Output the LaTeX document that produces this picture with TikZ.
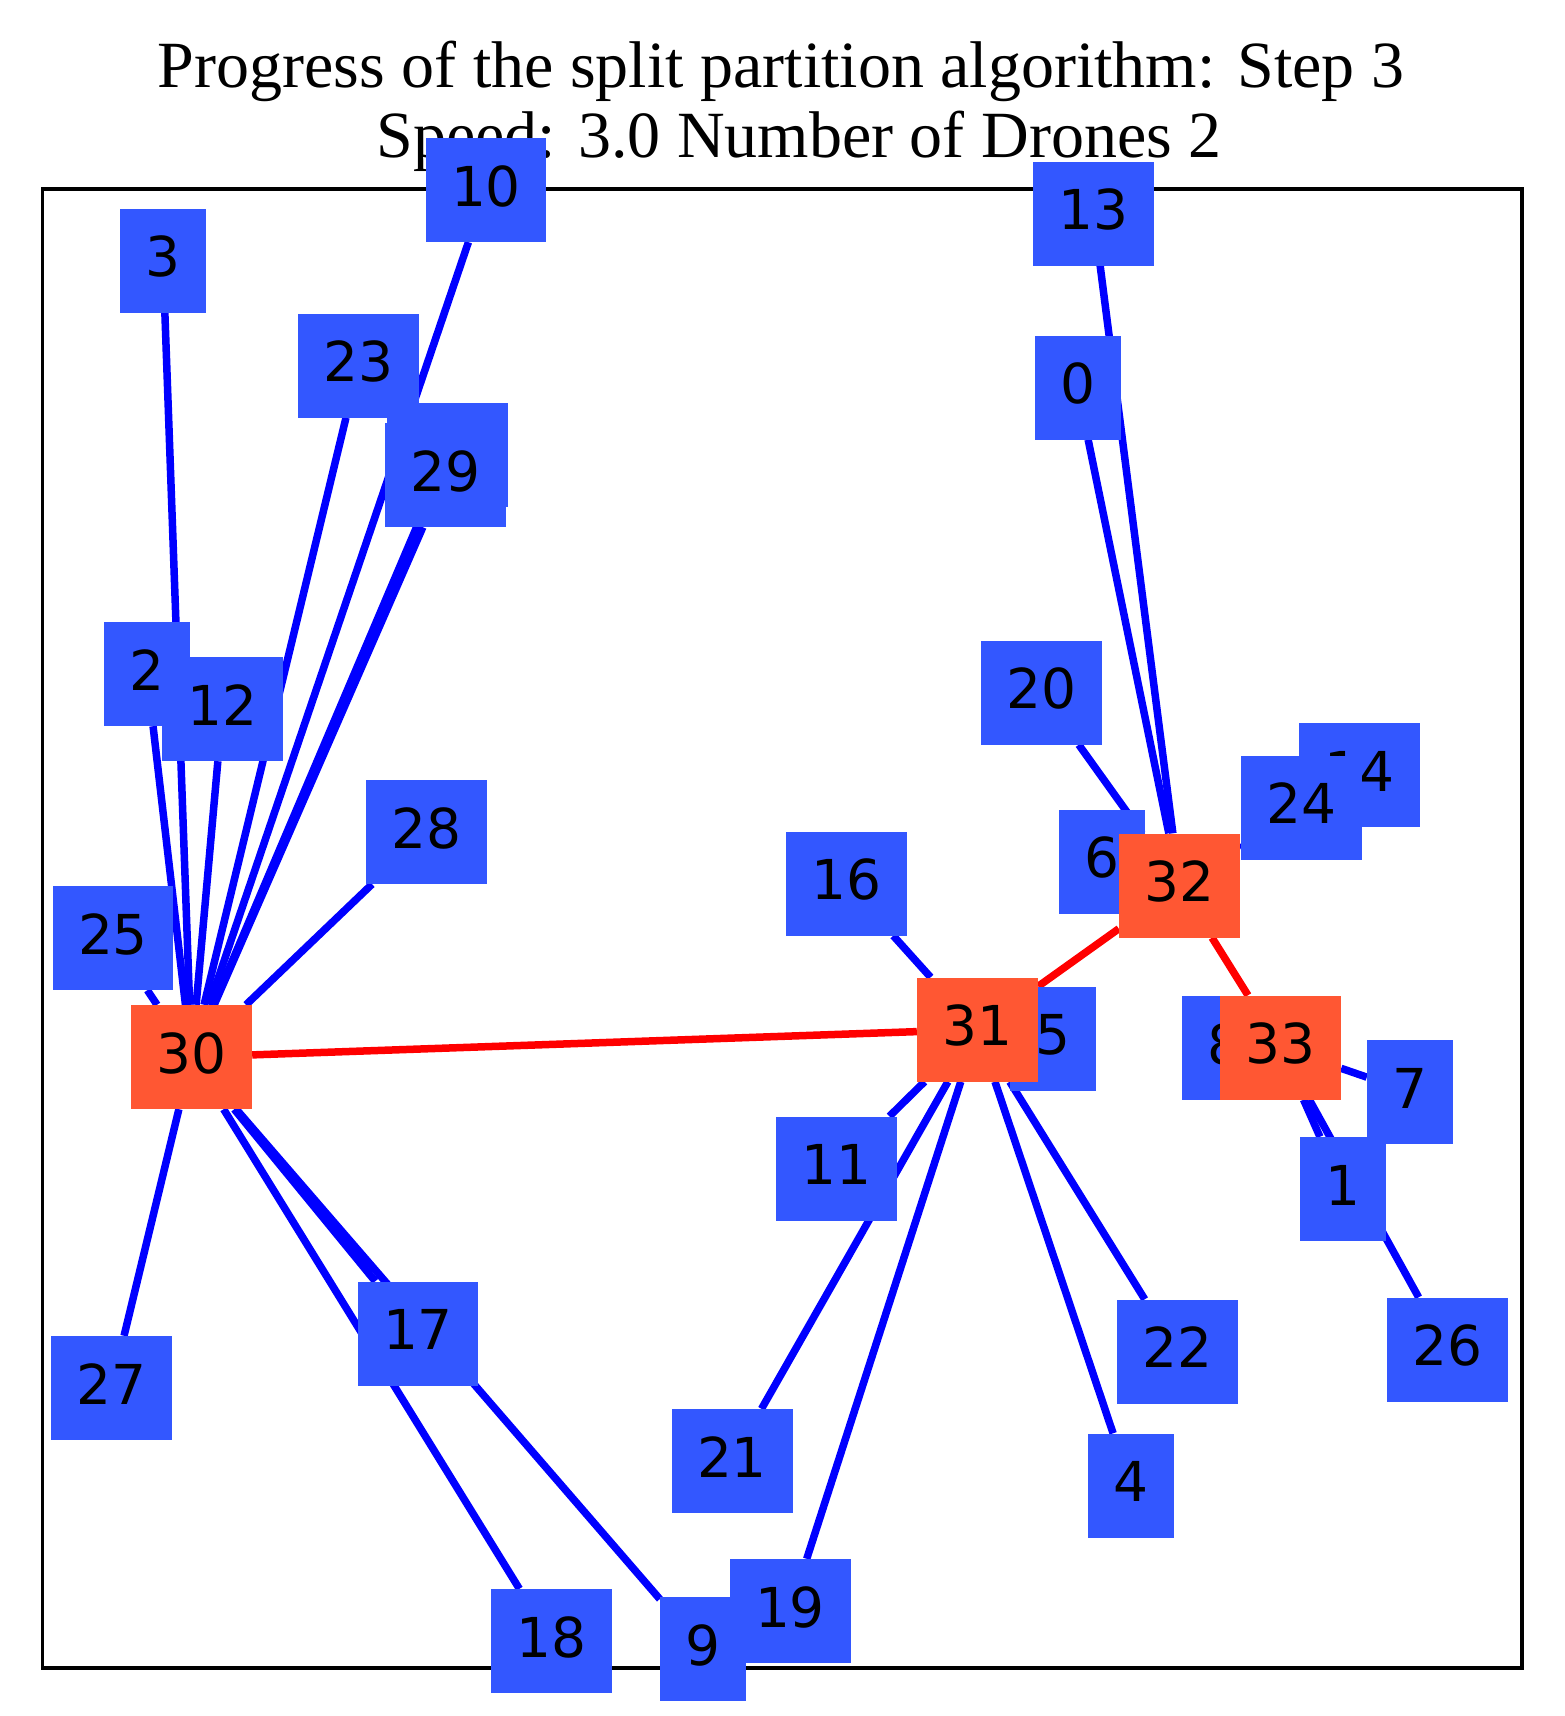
\documentclass[tikz,border=0pt]{standalone}
\usepackage{fontspec}
\setmainfont{Liberation Serif}
\newfontfamily\boxfont{DejaVu Sans}
\definecolor{leafblue}{HTML}{3357FF}
\definecolor{hubred}{HTML}{FF5733}
\pgfdeclarelayer{background}
\pgfsetlayers{background,main}

\begin{document}
\begin{tikzpicture}[x=1pt,y=-1pt,
                    leaf node/.style={fill=leafblue,font=\boxfont\fontsize{55}{66}\selectfont,
                                      minimum height=104pt,inner xsep=25.5pt,inner ysep=0pt,text depth=8pt},
                    hub node/.style={leaf node,fill=hubred},
                    link/.style={draw=blue,line width=7.5pt},
                    bridge/.style={draw=red,line width=7.5pt},
                    title/.style={font=\fontsize{66}{70}\selectfont,anchor=base,inner sep=0pt}]
  \useasboundingbox (0,0) rectangle (1565,1716);

  \node[title] (head) at (781,87) {Progress of the split partition algorithm: Step 3};
  \node[title] (sub) at (799,157) {Speed: 3.0 Number of Drones 2};

  \node[leaf node] (0) at (1077.5,387.5) {0};
  \node[leaf node] (1) at (1343,1189) {1};
  \node[leaf node] (2) at (147,674) {2};
  \node[leaf node] (3) at (163,260.5) {3};
  \node[leaf node] (4) at (1130.5,1485.5) {4};
  \node[leaf node] (5) at (1053,1038.5) {5};
  \node[leaf node] (6) at (1102,861.5) {6};
  \node[leaf node] (7) at (1410,1092) {7};
  \node[leaf node] (8) at (1224.5,1048) {8};
  \node[leaf node] (9) at (703,1649) {9};
  \node[leaf node] (10) at (486,190) {10};
  \node[leaf node] (11) at (836.5,1168.5) {11};
  \node[leaf node] (12) at (222.5,709) {12};
  \node[leaf node] (13) at (1093.5,213.5) {13};
  \node[leaf node] (14) at (1359.5,775) {14};
  \node[leaf node,minimum width=121pt] (15) at (447,455) {};
  \node[leaf node] (16) at (846.5,883.5) {16};
  \node[leaf node] (17) at (418,1333.5) {17};
  \node[leaf node] (18) at (551.5,1641) {18};
  \node[leaf node] (19) at (790,1611) {19};
  \node[leaf node] (20) at (1041.5,692.5) {20};
  \node[leaf node] (21) at (732,1461) {21};
  \node[leaf node] (22) at (1177,1351.5) {22};
  \node[leaf node] (23) at (358.5,365.5) {23};
  \node[leaf node] (24) at (1301.5,807.5) {24};
  \node[leaf node] (25) at (113,938) {25};
  \node[leaf node] (26) at (1447.5,1349.5) {26};
  \node[leaf node] (27) at (111.5,1388) {27};
  \node[leaf node] (28) at (426.5,832) {28};
  \node[leaf node] (29) at (445.5,475) {29};
  \node[hub node] (30) at (191.5,1057) {30};
  \node[hub node] (31) at (977.5,1029.5) {31};
  \node[hub node] (32) at (1179.5,885.5) {32};
  \node[hub node] (33) at (1280.5,1047.5) {33};

  \begin{pgfonlayer}{background}
    \draw[line width=3.5pt] (42.7,189) rectangle (1522,1668);

    \path[link]
    (30) edge (2)  (30) edge (3)  (30) edge (9)  (30) edge (10)
    (30) edge (12) (30) edge (15) (30) edge (17) (30) edge (18)
    (30) edge (23) (30) edge (25) (30) edge (27) (30) edge (28)
    (30) edge (29)
    (31) edge (4)  (31) edge (11) (31) edge (16) (31) edge (19)
    (31) edge (21) (31) edge (22)
    (32) edge (0)  (32) edge (13) (32) edge (14) (32) edge (20)
    (32) edge (24)
    (33) edge (1)  (33) edge (7)  (33) edge (26)
    ;

    \path[bridge]
    (30) edge (31)
    (31) edge (32)
    (32) edge (33)
    ;
  \end{pgfonlayer}
\end{tikzpicture}
\end{document}
